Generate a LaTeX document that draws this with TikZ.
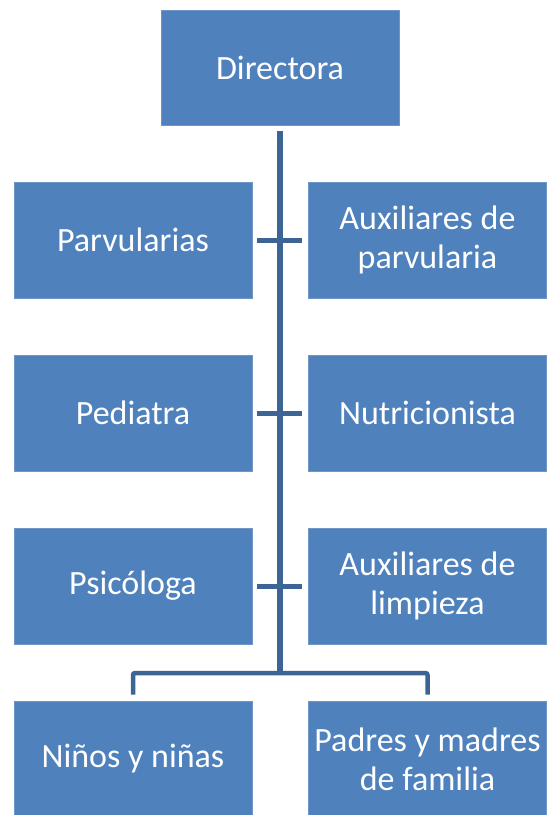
\documentclass[tikz,border=0pt]{standalone}
\usepackage{fontspec}
\setmainfont{Carlito}
\usetikzlibrary{calc}
\definecolor{boxfill}{HTML}{4F81BD}
\definecolor{boxedge}{HTML}{7096C8}
\definecolor{linecol}{HTML}{3C6595}
\tikzset{
  orgbox/.style={rectangle, fill=boxfill, draw=boxedge, line width=0.8pt,
    minimum width=238pt, minimum height=116pt, inner sep=2pt,
    text=white, align=center, font=\fontsize{34}{39}\selectfont},
  trunk/.style={draw=linecol, line width=5.5pt},
  tick/.style={draw=linecol, line width=5pt},
  bracket/.style={draw=linecol, line width=4.5pt, rounded corners=2pt}
}
\begin{document}
\begin{tikzpicture}[x=1pt,y=-1pt]
\useasboundingbox (0,0) rectangle (548,815);
\node[orgbox, minimum height=115pt] (dir) at (280,67.5) {Directora};
\node[orgbox] (parv) at (133,240) {Parvularias};
\node[orgbox] (aux) at (427.5,240) {Auxiliares de\\parvularia};
\node[orgbox] (ped) at (133,413) {Pediatra};
\node[orgbox] (nut) at (427.5,413) {Nutricionista};
\node[orgbox] (psi) at (133,586) {Psicóloga};
\node[orgbox] (limp) at (427.5,586) {Auxiliares de\\limpieza};
\node[orgbox] (ninos) at (133,759) {Niños y niñas};
\node[orgbox] (padres) at (427.5,759) {Padres y madres\\de familia};
\coordinate (top) at (280,131);
\coordinate (junc) at (280,673);
\draw[trunk] (top) -- (junc);
\foreach \r/\l/\rr in {240/parv/aux,413/ped/nut,586/psi/limp}{
  \draw[tick] ($(\l.east)+(5,0)$) -- ($(\rr.west)+(-6,0)$);
}
\draw[bracket] ([yshift=6pt]ninos.north) |- (junc) -| ([yshift=6pt]padres.north);
\end{tikzpicture}
\end{document}
